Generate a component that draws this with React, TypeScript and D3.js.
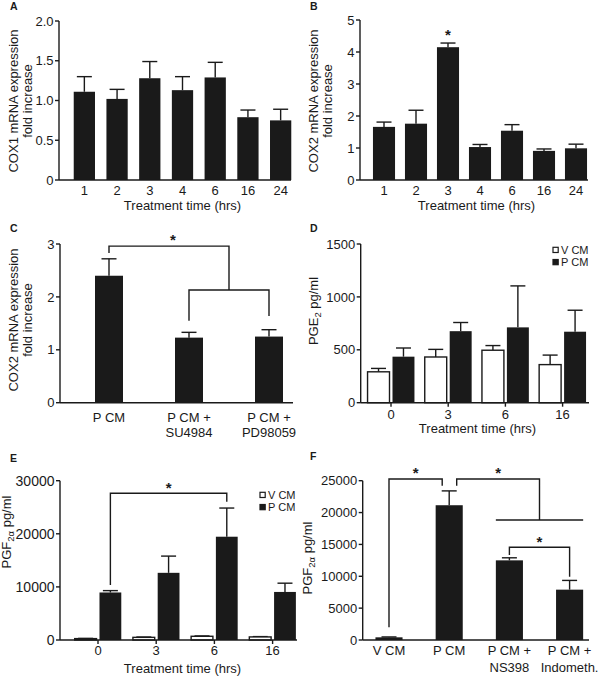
import React from "react";
import * as d3 from "d3";

// ---------- DATA ----------
const timesAB = ["1", "2", "3", "4", "6", "16", "24"];
const cox1Mean = [1.11, 1.02, 1.28, 1.13, 1.29, 0.79, 0.75];
const cox1Sem = [0.19, 0.12, 0.21, 0.17, 0.19, 0.09, 0.14];
const cox2Mean = [1.66, 1.76, 4.15, 1.03, 1.54, 0.91, 0.99];
const cox2Sem = [0.15, 0.42, 0.13, 0.08, 0.19, 0.06, 0.13];

const groupsC = ["P CM", "P CM + SU4984", "P CM + PD98059"];
const labelsC = [["P CM"], ["P CM +", "SU4984"], ["P CM +", "PD98059"]];
const cox2InhMean = [2.4, 1.23, 1.25];
const cox2InhSem = [0.32, 0.1, 0.13];

const timesDE = ["0", "3", "6", "16"];
const seriesDE = ["V CM", "P CM"];
const pge2V = [292, 432, 496, 360];
const pge2VSem = [32, 72, 44, 90];
const pge2P = [435, 676, 712, 671];
const pge2PSem = [82, 82, 392, 203];

const pgf2V = [260, 500, 700, 580];
const pgf2VSem = [40, 60, 60, 60];
const pgf2P = [8950, 12650, 19450, 9050];
const pgf2PSem = [350, 3150, 5400, 1650];

const groupsF = ["V CM", "P CM", "P CM + NS398", "P CM + Indometh."];
const labelsF = [["V CM"], ["P CM"], ["P CM +", "NS398"], ["P CM +", "Indometh."]];
const pgf2InhMean = [420, 21150, 12500, 7900];
const pgf2InhSem = [60, 2250, 400, 1450];

const ticksA = [0, 0.5, 1, 1.5, 2];
const ticksB = [0, 1, 2, 3, 4, 5];
const ticksC = [0, 1, 2, 3];
const ticksD = [0, 500, 1000, 1500];
const ticksE = [0, 10000, 20000, 30000];
const ticksF = [0, 5000, 10000, 15000, 20000, 25000];

// ---------- STYLE ----------
const FONT = "'Liberation Sans', Arial, Helvetica, sans-serif";
const INK = "#1a1a1a";
const LW = 1.4;
const CAP = 7.5;

type Lin = d3.ScaleLinear<number, number>;

function YAxis({ y, x0, ticks, fmt, fs = 13 }: { y: Lin; x0: number; ticks: number[]; fmt: (t: number) => string; fs?: number }) {
  return (
    <g>
      <line x1={x0} x2={x0} y1={y(ticks[ticks.length - 1])} y2={y(0)} stroke={INK} strokeWidth={LW} />
      {ticks.map((t) => (
        <g key={t}>
          <line x1={x0 - 4} x2={x0} y1={y(t)} y2={y(t)} stroke={INK} strokeWidth={LW} />
          <text x={x0 - 5.5} y={y(t)} dy="0.36em" textAnchor="end" fontSize={fs}>
            {fmt(t)}
          </text>
        </g>
      ))}
    </g>
  );
}

function Bar({ cx, w, y, mean, sem, fill }: { cx: number; w: number; y: Lin; mean: number; sem: number; fill: string }) {
  const top = y(mean);
  const base = y(0);
  const et = y(mean + sem);
  return (
    <g>
      <line x1={cx} x2={cx} y1={top} y2={et} stroke={INK} strokeWidth={LW} />
      <line x1={cx - CAP} x2={cx + CAP} y1={et} y2={et} stroke={INK} strokeWidth={LW} />
      <rect
        x={cx - w / 2}
        y={top}
        width={w}
        height={base - top}
        fill={fill}
        stroke={fill === "white" ? INK : "none"}
        strokeWidth={LW}
      />
    </g>
  );
}

function Star({ x, y }: { x: number; y: number }) {
  return (
    <text x={x} y={y + 8.6} textAnchor="middle" fontSize={15} fontWeight="bold">
      *
    </text>
  );
}

function YLabel({ x, y, lines }: { x: number; y: number; lines: string[] }) {
  return (
    <g>
      {lines.map((l, i) => (
        <text key={i} transform={`translate(${x + i * 14},${y}) rotate(-90)`} textAnchor="middle" fontSize={13}>
          {l}
        </text>
      ))}
    </g>
  );
}

function PgLabel({ x, y, sub }: { x: number; y: number; sub: string }) {
  return (
    <text transform={`translate(${x},${y}) rotate(-90)`} textAnchor="middle" fontSize={13}>
      {sub === "2" ? "PGE" : "PGF"}
      <tspan fontSize={9.5} dy={2.5}>{sub}</tspan>
      <tspan dy={-2.5}> pg/ml</tspan>
    </text>
  );
}

function Legend({ x, y }: { x: number; y: number }) {
  return (
    <g>
      {seriesDE.map((s, i) => (
        <g key={s}>
          <rect x={x} y={y + i * 12.2} width={5.2} height={5.2} fill={i === 0 ? "white" : INK} stroke={INK} strokeWidth={1.2} />
          <text x={x + 8} y={y + 6.3 + i * 12.2} fontSize={11}>
            {s}
          </text>
        </g>
      ))}
    </g>
  );
}

function PanelSimple({
  cats,
  mean,
  sem,
  y,
  x,
  ticks,
  fmt,
  axisX0,
  axisX1,
  labelY,
}: {
  cats: string[];
  mean: number[];
  sem: number[];
  y: Lin;
  x: d3.ScaleBand<string>;
  ticks: number[];
  fmt: (t: number) => string;
  axisX0: number;
  axisX1: number;
  labelY: number;
}) {
  return (
    <g>
      {cats.map((c, i) => (
        <Bar key={c} cx={x(c)! + x.bandwidth() / 2} w={x.bandwidth()} y={y} mean={mean[i]} sem={sem[i]} fill={INK} />
      ))}
      <line x1={axisX0} x2={axisX1} y1={y(0)} y2={y(0)} stroke={INK} strokeWidth={LW} />
      <YAxis y={y} x0={axisX0} ticks={ticks} fmt={fmt} />
      {cats.map((c) => (
        <text key={c} x={x(c)! + x.bandwidth() / 2} y={labelY} textAnchor="middle" fontSize={13}>
          {c}
        </text>
      ))}
    </g>
  );
}

function PanelGrouped({
  v,
  vs,
  p,
  ps,
  y,
  x,
  ticks,
  axisX0,
  axisX1,
  labelY,
  tickFs = 13,
}: {
  v: number[];
  vs: number[];
  p: number[];
  ps: number[];
  y: Lin;
  x: d3.ScaleBand<string>;
  ticks: number[];
  axisX0: number;
  axisX1: number;
  labelY: number;
  tickFs?: number;
}) {
  const inner = d3.scaleBand<string>().domain(seriesDE).range([0, x.bandwidth()]).paddingInner(0.12);
  return (
    <g>
      {timesDE.map((t, i) => (
        <g key={t}>
          <Bar cx={x(t)! + inner("V CM")! + inner.bandwidth() / 2} w={inner.bandwidth()} y={y} mean={v[i]} sem={vs[i]} fill="white" />
          <Bar cx={x(t)! + inner("P CM")! + inner.bandwidth() / 2} w={inner.bandwidth()} y={y} mean={p[i]} sem={ps[i]} fill={INK} />
        </g>
      ))}
      <line x1={axisX0} x2={axisX1} y1={y(0)} y2={y(0)} stroke={INK} strokeWidth={LW} />
      {timesDE.map((t) => (
        <line key={t} x1={x(t)! + x.bandwidth() / 2} x2={x(t)! + x.bandwidth() / 2} y1={y(0)} y2={y(0) + 4} stroke={INK} strokeWidth={LW} />
      ))}
      <YAxis y={y} x0={axisX0} ticks={ticks} fmt={(t) => String(t)} fs={tickFs} />
      {timesDE.map((t) => (
        <text key={t} x={x(t)! + x.bandwidth() / 2} y={labelY} textAnchor="middle" fontSize={13}>
          {t}
        </text>
      ))}
    </g>
  );
}

function Bracket({ d }: { d: string }) {
  return <path d={d} fill="none" stroke={INK} strokeWidth={LW} />;
}

export default function App() {
  // A
  const yA = d3.scaleLinear().domain([0, 2]).range([180, 21]);
  const xA = d3.scaleBand<string>().domain(timesAB).range([68, 297]).paddingInner(0.35).paddingOuter(0.175);
  // B
  const yB = d3.scaleLinear().domain([0, 5]).range([180, 20]);
  const xB = d3.scaleBand<string>().domain(timesAB).range([368, 592]).paddingInner(0.31).paddingOuter(0.155);
  // C
  const yC = d3.scaleLinear().domain([0, 3]).range([402.7, 244]);
  const xC = d3.scaleBand<string>().domain(groupsC).range([69, 309]).paddingInner(0.65).paddingOuter(0.325);
  const cC = (i: number) => xC(groupsC[i])! + xC.bandwidth() / 2;
  // D
  const yD = d3.scaleLinear().domain([0, 1500]).range([402.7, 244]);
  const xD = d3.scaleBand<string>().domain(timesDE).range([362.4, 591.2]).paddingInner(0.18).paddingOuter(0.09);
  // E
  const yE = d3.scaleLinear().domain([0, 30000]).range([640, 480.7]);
  const xE = d3.scaleBand<string>().domain(timesDE).range([68.9, 301.7]).paddingInner(0.2).paddingOuter(0.1);
  const innerE = d3.scaleBand<string>().domain(seriesDE).range([0, xE.bandwidth()]).paddingInner(0.12);
  const pE = (t: string) => xE(t)! + innerE("P CM")! + innerE.bandwidth() / 2;
  // F
  const yF = d3.scaleLinear().domain([0, 25000]).range([640, 480.7]);
  const xF = d3.scaleBand<string>().domain(groupsF).range([358.9, 599.7]).paddingInner(0.55).paddingOuter(0.275);
  const cF = (i: number) => xF(groupsF[i])! + xF.bandwidth() / 2;

  const cMid = (cC(1) + cC(2)) / 2;
  const fMid = (cF(2) + cF(3)) / 2;

  return (
    <svg
      width={600}
      height={676}
      style={{ position: "absolute", left: 0, top: 0, background: "white" }}
      fontFamily={FONT}
      fill={INK}
    >
      <rect width={600} height={676} fill="white" />

      {/* Panel letters */}
      <g fontSize={10.5} fontWeight="bold">
        <text x={10} y={10}>A</text>
        <text x={310} y={10}>B</text>
        <text x={10} y={232}>C</text>
        <text x={310} y={232}>D</text>
        <text x={10} y={462}>E</text>
        <text x={310} y={460}>F</text>
      </g>

      {/* A */}
      <PanelSimple cats={timesAB} mean={cox1Mean} sem={cox1Sem} y={yA} x={xA} ticks={ticksA}
        fmt={(t) => (t === 0 ? "0" : t.toFixed(1))} axisX0={59} axisX1={291} labelY={194.5} />
      <text x={182.5} y={209.5} textAnchor="middle" fontSize={13}>Treatment time (hrs)</text>
      <YLabel x={18} y={101} lines={["COX1 mRNA expression", "fold increase"]} />

      {/* B */}
      <PanelSimple cats={timesAB} mean={cox2Mean} sem={cox2Sem} y={yB} x={xB} ticks={ticksB}
        fmt={(t) => String(t)} axisX0={360} axisX1={588} labelY={194.5} />
      <text x={476.5} y={209.5} textAnchor="middle" fontSize={13}>Treatment time (hrs)</text>
      <YLabel x={318} y={101} lines={["COX2 mRNA expression", "fold increase"]} />
      <Star x={xB("3")! + xB.bandwidth() / 2} y={yB(4.63)} />

      {/* C */}
      {groupsC.map((g, i) => (
        <Bar key={g} cx={cC(i)} w={xC.bandwidth()} y={yC} mean={cox2InhMean[i]} sem={cox2InhSem[i]} fill={INK} />
      ))}
      <line x1={60} x2={293} y1={yC(0)} y2={yC(0)} stroke={INK} strokeWidth={LW} />
      <YAxis y={yC} x0={60} ticks={ticksC} fmt={(t) => String(t)} />
      {labelsC.map((ls, i) =>
        ls.map((l, j) => (
          <text key={i + "-" + j} x={cC(i)} y={421.5 + j * 15} textAnchor="middle" fontSize={13}>{l}</text>
        ))
      )}
      <YLabel x={18} y={320} lines={["COX2 mRNA expression", "fold increase"]} />
      <Bracket d={`M${cC(0)},${yC(2.83)}V${yC(2.96)}H${cMid}V${yC(2.13)}`} />
      <Bracket d={`M${cC(1)},${yC(1.55)}V${yC(2.13)}H${cC(2)}V${yC(1.64)}`} />
      <Star x={(cC(0) + cMid) / 2 + 4} y={yC(3.14)} />

      {/* D */}
      <PanelGrouped v={pge2V} vs={pge2VSem} p={pge2P} ps={pge2PSem} y={yD} x={xD} ticks={ticksD}
        axisX0={360.7} axisX1={589} labelY={418.5} />
      <text x={477.5} y={433} textAnchor="middle" fontSize={13}>Treatment time (hrs)</text>
      <PgLabel x={318} y={311} sub="2" />
      <Legend x={553} y={247.3} />

      {/* E */}
      <PanelGrouped v={pgf2V} vs={pgf2VSem} p={pgf2P} ps={pgf2PSem} y={yE} x={xE} ticks={ticksE}
        axisX0={60} axisX1={297} labelY={655} tickFs={14} />
      <text x={182.5} y={672.5} textAnchor="middle" fontSize={13}>Treatment time (hrs)</text>
      <PgLabel x={11} y={532} sub="2α" />
      <Legend x={260} y={492.3} />
      <Bracket d={`M${pE("0")},${yE(10350)}V${yE(27630)}H${pE("6")}V${yE(26040)}`} />
      <Star x={(pE("0") + pE("6")) / 2} y={yE(29320)} />

      {/* F */}
      {groupsF.map((g, i) => (
        <Bar key={g} cx={cF(i)} w={xF.bandwidth()} y={yF} mean={pgf2InhMean[i]} sem={pgf2InhSem[i]} fill={INK} />
      ))}
      <line x1={362.7} x2={589} y1={yF(0)} y2={yF(0)} stroke={INK} strokeWidth={LW} />
      <YAxis y={yF} x0={362.7} ticks={ticksF} fmt={(t) => String(t)} />
      {labelsF.map((ls, i) =>
        ls.map((l, j) => (
          <text key={i + "-" + j} x={cF(i)} y={655 + j * 16.5} textAnchor="middle" fontSize={13}>{l}</text>
        ))
      )}
      <PgLabel x={312} y={558} sub="2α" />
      <Bracket d={`M${cF(0)},${yF(2000)}V${yF(25270)}H${cF(1) - 7}V${yF(24220)}`} />
      <Bracket d={`M${cF(1) + 7.5},${yF(24220)}V${yF(25270)}H${fMid}V${yF(18830)}`} />
      <Bracket d={`M${xF(groupsF[2])!},${yF(18830)}H${xF(groupsF[3])! + xF.bandwidth()}`} />
      <Bracket d={`M${cF(2)},${yF(13340)}V${yF(14550)}H${cF(3)}V${yF(9930)}`} />
      <Star x={(cF(0) + cF(1) - 7) / 2} y={yF(26740)} />
      <Star x={(cF(1) + 7.5 + fMid) / 2} y={yF(26740)} />
      <Star x={fMid} y={yF(15960)} />
    </svg>
  );
}
